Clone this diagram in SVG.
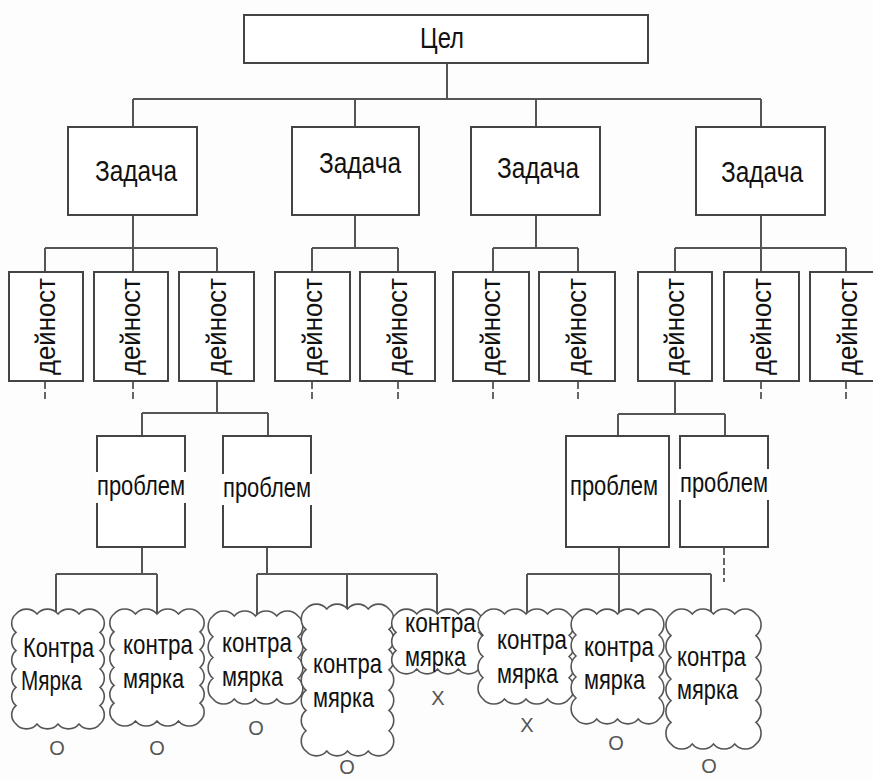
<svg xmlns="http://www.w3.org/2000/svg" width="873" height="780" viewBox="0 0 873 780">
<style>
.box{fill:#fff;stroke:#444;stroke-width:2}
.ln{stroke:#555;stroke-width:2;fill:none}
.dash{stroke:#666;stroke-width:2;stroke-dasharray:7 3;fill:none}
.cloud{fill:#fff;stroke:#555;stroke-width:1.6}
text{font-family:"Liberation Sans",Arial,sans-serif;fill:#111}
.h{font-size:30px}
.v{font-size:27px}
.p{font-size:27px}
.c{font-size:28px}
.m{font-size:20px;fill:#555;text-anchor:middle}
.bg{fill:#fff}
</style>
<rect width="873" height="780" fill="#fdfdfd"/>
<g id="connectors">
<path class="ln" d="M447,63V99M133,99H761M133,99V127M355,99V127M536,99V127M761,99V127"/>
<path class="ln" d="M133,215V248M45,248H217M45,248V272M133,248V272M217,248V272"/>
<path class="ln" d="M355,215V248M312,248H398M312,248V272M398,248V272"/>
<path class="ln" d="M536,215V248M493,248H578M493,248V272M578,248V272"/>
<path class="ln" d="M761,215V248M675,248H846M675,248V272M761,248V272M846,248V272"/>
<path class="ln" d="M217,381V413M142,413H268M142,413V436M268,413V436"/>
<path class="ln" d="M675,381V414M618,414H725M618,414V436M725,414V436"/>
<path class="ln" d="M142,547V574M56,574H157M56,574V614M157,574V614"/>
<path class="ln" d="M267,547V574M257,574H437M257,574V616M347,574V609M437,574V614"/>
<path class="ln" d="M619,547V574M527,574H711M527,574V614M619,574V614M711,574V614"/>
<path class="dash" d="M45,382V401M133,382V401M312,382V401M398,382V401M493,382V401M578,382V401M761,382V401M846,382V401M724,548V582"/>
</g>
<g id="cel"><rect class="box" x="244" y="15" width="404" height="48"/><text class="h" x="420" y="48" textLength="44" lengthAdjust="spacingAndGlyphs">Цел</text></g>
<g id="z1"><rect class="box" x="68" y="127" width="129" height="88"/><text class="h" x="95" y="181" textLength="82" lengthAdjust="spacingAndGlyphs">Задача</text></g>
<g id="z2"><rect class="box" x="292" y="127" width="127" height="88"/><text class="h" x="319" y="173" textLength="82" lengthAdjust="spacingAndGlyphs">Задача</text></g>
<g id="z3"><rect class="box" x="471" y="127" width="129" height="88"/><text class="h" x="497" y="178" textLength="82" lengthAdjust="spacingAndGlyphs">Задача</text></g>
<g id="z4"><rect class="box" x="696" y="127" width="129" height="88"/><text class="h" x="721" y="182" textLength="82" lengthAdjust="spacingAndGlyphs">Задача</text></g>
<g id="d1"><rect class="box" x="9" y="272" width="74" height="109"/><text class="v" transform="translate(55,326.5) rotate(-90)" x="-48.5" textLength="97" lengthAdjust="spacingAndGlyphs">дейност</text></g>
<g id="d2"><rect class="box" x="94" y="272" width="74" height="109"/><text class="v" transform="translate(140,326.5) rotate(-90)" x="-48.5" textLength="97" lengthAdjust="spacingAndGlyphs">дейност</text></g>
<g id="d3"><rect class="box" x="179" y="272" width="75" height="109"/><text class="v" transform="translate(225.5,326.5) rotate(-90)" x="-48.5" textLength="97" lengthAdjust="spacingAndGlyphs">дейност</text></g>
<g id="d4"><rect class="box" x="275" y="272" width="75" height="109"/><text class="v" transform="translate(321.5,326.5) rotate(-90)" x="-48.5" textLength="97" lengthAdjust="spacingAndGlyphs">дейност</text></g>
<g id="d5"><rect class="box" x="360" y="272" width="75" height="109"/><text class="v" transform="translate(406.5,326.5) rotate(-90)" x="-48.5" textLength="97" lengthAdjust="spacingAndGlyphs">дейност</text></g>
<g id="d6"><rect class="box" x="453" y="272" width="76" height="109"/><text class="v" transform="translate(500,326.5) rotate(-90)" x="-48.5" textLength="97" lengthAdjust="spacingAndGlyphs">дейност</text></g>
<g id="d7"><rect class="box" x="539" y="272" width="76" height="109"/><text class="v" transform="translate(586,326.5) rotate(-90)" x="-48.5" textLength="97" lengthAdjust="spacingAndGlyphs">дейност</text></g>
<g id="d8"><rect class="box" x="638" y="272" width="74" height="109"/><text class="v" transform="translate(684,326.5) rotate(-90)" x="-48.5" textLength="97" lengthAdjust="spacingAndGlyphs">дейност</text></g>
<g id="d9"><rect class="box" x="724" y="272" width="75" height="109"/><text class="v" transform="translate(770.5,326.5) rotate(-90)" x="-48.5" textLength="97" lengthAdjust="spacingAndGlyphs">дейност</text></g>
<g id="d10"><rect class="box" x="810" y="272" width="75" height="109"/><text class="v" transform="translate(856.5,326.5) rotate(-90)" x="-48.5" textLength="97" lengthAdjust="spacingAndGlyphs">дейност</text></g>
<g id="p1"><rect class="box" x="97" y="436" width="88" height="111"/><rect class="bg" x="95" y="472" width="92" height="31"/><text class="p" x="97" y="495" textLength="88" lengthAdjust="spacingAndGlyphs">проблем</text></g>
<g id="p2"><rect class="box" x="223" y="436" width="88" height="111"/><rect class="bg" x="221" y="474" width="92" height="31"/><text class="p" x="223" y="497" textLength="88" lengthAdjust="spacingAndGlyphs">проблем</text></g>
<g id="p3"><rect class="box" x="566" y="436" width="103" height="111"/><text class="p" x="570" y="495" textLength="88" lengthAdjust="spacingAndGlyphs">проблем</text></g>
<g id="p4"><rect class="box" x="680" y="436" width="88" height="111"/><rect class="bg" x="678" y="469" width="92" height="31"/><text class="p" x="680" y="492" textLength="88" lengthAdjust="spacingAndGlyphs">проблем</text></g>
<g id="k1"><path class="cloud" d="M16,614a13.7,13.7 0 0 1 21,0a13.7,13.7 0 0 1 21,0a13.7,13.7 0 0 1 21,0a13.7,13.7 0 0 1 21,0a11.9,11.9 0 0 1 0,18.33a11.9,11.9 0 0 1 0,18.33a11.9,11.9 0 0 1 0,18.33a11.9,11.9 0 0 1 0,18.33a11.9,11.9 0 0 1 0,18.33a11.9,11.9 0 0 1 0,18.33a13.7,13.7 0 0 1 -21,0a13.7,13.7 0 0 1 -21,0a13.7,13.7 0 0 1 -21,0a13.7,13.7 0 0 1 -21,0a11.9,11.9 0 0 1 0,-18.33a11.9,11.9 0 0 1 0,-18.33a11.9,11.9 0 0 1 0,-18.33a11.9,11.9 0 0 1 0,-18.33a11.9,11.9 0 0 1 0,-18.33a11.9,11.9 0 0 1 0,-18.33z"/><text class="c" x="23" y="657" textLength="71" lengthAdjust="spacingAndGlyphs">Контра</text><text class="c" x="21" y="690" textLength="61" lengthAdjust="spacingAndGlyphs">Мярка</text><text class="m" x="57" y="755">O</text></g>
<g id="k2"><path class="cloud" d="M114,614a14,14 0 0 1 21.5,0a14,14 0 0 1 21.5,0a14,14 0 0 1 21.5,0a14,14 0 0 1 21.5,0a11.6,11.6 0 0 1 0,17.83a11.6,11.6 0 0 1 0,17.83a11.6,11.6 0 0 1 0,17.83a11.6,11.6 0 0 1 0,17.83a11.6,11.6 0 0 1 0,17.83a11.6,11.6 0 0 1 0,17.83a14,14 0 0 1 -21.5,0a14,14 0 0 1 -21.5,0a14,14 0 0 1 -21.5,0a14,14 0 0 1 -21.5,0a11.6,11.6 0 0 1 0,-17.83a11.6,11.6 0 0 1 0,-17.83a11.6,11.6 0 0 1 0,-17.83a11.6,11.6 0 0 1 0,-17.83a11.6,11.6 0 0 1 0,-17.83a11.6,11.6 0 0 1 0,-17.83z"/><text class="c" x="123" y="654" textLength="70" lengthAdjust="spacingAndGlyphs">контра</text><text class="c" x="123" y="688" textLength="61" lengthAdjust="spacingAndGlyphs">мярка</text><text class="m" x="157" y="755">O</text></g>
<g id="k3"><path class="cloud" d="M213,616a13.8,13.8 0 0 1 21.25,0a13.8,13.8 0 0 1 21.25,0a13.8,13.8 0 0 1 21.25,0a13.8,13.8 0 0 1 21.25,0a13.5,13.5 0 0 1 0,20.75a13.5,13.5 0 0 1 0,20.75a13.5,13.5 0 0 1 0,20.75a13.5,13.5 0 0 1 0,20.75a13.8,13.8 0 0 1 -21.25,0a13.8,13.8 0 0 1 -21.25,0a13.8,13.8 0 0 1 -21.25,0a13.8,13.8 0 0 1 -21.25,0a13.5,13.5 0 0 1 0,-20.75a13.5,13.5 0 0 1 0,-20.75a13.5,13.5 0 0 1 0,-20.75a13.5,13.5 0 0 1 0,-20.75z"/><text class="c" x="222" y="652" textLength="70" lengthAdjust="spacingAndGlyphs">контра</text><text class="c" x="222" y="686" textLength="61" lengthAdjust="spacingAndGlyphs">мярка</text><text class="m" x="256" y="735">O</text></g>
<g id="k4"><path class="cloud" d="M306,609a13.5,13.5 0 0 1 20.75,0a13.5,13.5 0 0 1 20.75,0a13.5,13.5 0 0 1 20.75,0a13.5,13.5 0 0 1 20.75,0a13.2,13.2 0 0 1 0,20.29a13.2,13.2 0 0 1 0,20.29a13.2,13.2 0 0 1 0,20.29a13.2,13.2 0 0 1 0,20.29a13.2,13.2 0 0 1 0,20.29a13.2,13.2 0 0 1 0,20.29a13.2,13.2 0 0 1 0,20.29a13.5,13.5 0 0 1 -20.75,0a13.5,13.5 0 0 1 -20.75,0a13.5,13.5 0 0 1 -20.75,0a13.5,13.5 0 0 1 -20.75,0a13.2,13.2 0 0 1 0,-20.29a13.2,13.2 0 0 1 0,-20.29a13.2,13.2 0 0 1 0,-20.29a13.2,13.2 0 0 1 0,-20.29a13.2,13.2 0 0 1 0,-20.29a13.2,13.2 0 0 1 0,-20.29a13.2,13.2 0 0 1 0,-20.29z"/><text class="c" x="313" y="673" textLength="69" lengthAdjust="spacingAndGlyphs">контра</text><text class="c" x="313" y="707" textLength="61" lengthAdjust="spacingAndGlyphs">мярка</text><text class="m" x="347" y="774">O</text></g>
<g id="k5"><path class="cloud" d="M396,614a13.5,13.5 0 0 1 20.75,0a13.5,13.5 0 0 1 20.75,0a13.5,13.5 0 0 1 20.75,0a13.5,13.5 0 0 1 20.75,0a11.9,11.9 0 0 1 0,18.33a11.9,11.9 0 0 1 0,18.33a11.9,11.9 0 0 1 0,18.33a13.5,13.5 0 0 1 -20.75,0a13.5,13.5 0 0 1 -20.75,0a13.5,13.5 0 0 1 -20.75,0a13.5,13.5 0 0 1 -20.75,0a11.9,11.9 0 0 1 0,-18.33a11.9,11.9 0 0 1 0,-18.33a11.9,11.9 0 0 1 0,-18.33z"/><text class="c" x="405" y="632" textLength="71" lengthAdjust="spacingAndGlyphs">контра</text><text class="c" x="405" y="666" textLength="61" lengthAdjust="spacingAndGlyphs">мярка</text><text class="m" x="438" y="705">X</text></g>
<g id="k6"><path class="cloud" d="M483,614a14,14 0 0 1 21.5,0a14,14 0 0 1 21.5,0a14,14 0 0 1 21.5,0a14,14 0 0 1 21.5,0a13.8,13.8 0 0 1 0,21.25a13.8,13.8 0 0 1 0,21.25a13.8,13.8 0 0 1 0,21.25a13.8,13.8 0 0 1 0,21.25a14,14 0 0 1 -21.5,0a14,14 0 0 1 -21.5,0a14,14 0 0 1 -21.5,0a14,14 0 0 1 -21.5,0a13.8,13.8 0 0 1 0,-21.25a13.8,13.8 0 0 1 0,-21.25a13.8,13.8 0 0 1 0,-21.25a13.8,13.8 0 0 1 0,-21.25z"/><text class="c" x="497" y="649" textLength="70" lengthAdjust="spacingAndGlyphs">контра</text><text class="c" x="497" y="683" textLength="61" lengthAdjust="spacingAndGlyphs">мярка</text><text class="m" x="527" y="732">X</text></g>
<g id="k7"><path class="cloud" d="M576,614a13.5,13.5 0 0 1 20.75,0a13.5,13.5 0 0 1 20.75,0a13.5,13.5 0 0 1 20.75,0a13.5,13.5 0 0 1 20.75,0a13.7,13.7 0 0 1 0,21a13.7,13.7 0 0 1 0,21a13.7,13.7 0 0 1 0,21a13.7,13.7 0 0 1 0,21a13.7,13.7 0 0 1 0,21a13.5,13.5 0 0 1 -20.75,0a13.5,13.5 0 0 1 -20.75,0a13.5,13.5 0 0 1 -20.75,0a13.5,13.5 0 0 1 -20.75,0a13.7,13.7 0 0 1 0,-21a13.7,13.7 0 0 1 0,-21a13.7,13.7 0 0 1 0,-21a13.7,13.7 0 0 1 0,-21a13.7,13.7 0 0 1 0,-21z"/><text class="c" x="584" y="656" textLength="70" lengthAdjust="spacingAndGlyphs">контра</text><text class="c" x="584" y="689" textLength="61" lengthAdjust="spacingAndGlyphs">мярка</text><text class="m" x="616" y="750">O</text></g>
<g id="k8"><path class="cloud" d="M671,614a13.8,13.8 0 0 1 21.25,0a13.8,13.8 0 0 1 21.25,0a13.8,13.8 0 0 1 21.25,0a13.8,13.8 0 0 1 21.25,0a14.1,14.1 0 0 1 0,21.67a14.1,14.1 0 0 1 0,21.67a14.1,14.1 0 0 1 0,21.67a14.1,14.1 0 0 1 0,21.67a14.1,14.1 0 0 1 0,21.67a14.1,14.1 0 0 1 0,21.67a13.8,13.8 0 0 1 -21.25,0a13.8,13.8 0 0 1 -21.25,0a13.8,13.8 0 0 1 -21.25,0a13.8,13.8 0 0 1 -21.25,0a14.1,14.1 0 0 1 0,-21.67a14.1,14.1 0 0 1 0,-21.67a14.1,14.1 0 0 1 0,-21.67a14.1,14.1 0 0 1 0,-21.67a14.1,14.1 0 0 1 0,-21.67a14.1,14.1 0 0 1 0,-21.67z"/><text class="c" x="677" y="666" textLength="69" lengthAdjust="spacingAndGlyphs">контра</text><text class="c" x="677" y="699" textLength="61" lengthAdjust="spacingAndGlyphs">мярка</text><text class="m" x="709" y="773">O</text></g>
</svg>
